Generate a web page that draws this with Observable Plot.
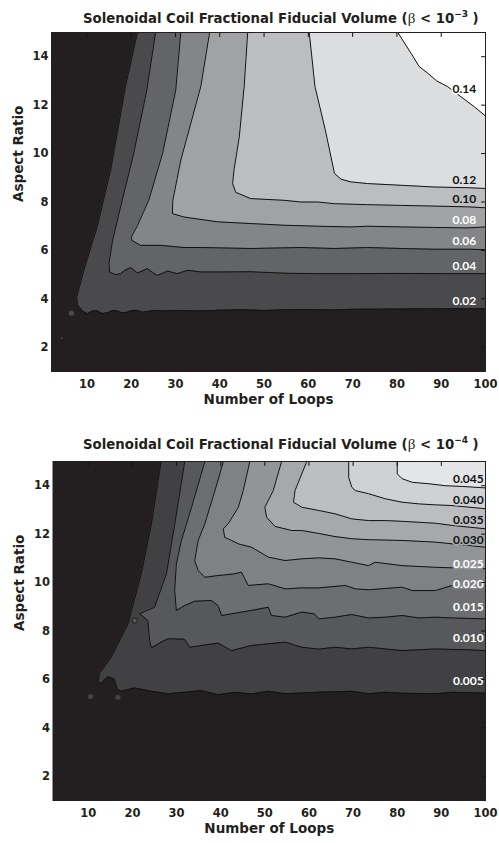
<!DOCTYPE html>
<html><head><meta charset="utf-8">
<script src="https://cdn.jsdelivr.net/npm/d3@7"></script>
<script src="https://cdn.jsdelivr.net/npm/@observablehq/plot@0.6"></script>
<style>
body{margin:0;background:#fff;}
#wrap{position:relative;width:499px;height:843px;overflow:hidden;}
.panel{position:absolute;left:0;}
.title{position:absolute;font-family:"DejaVu Sans",sans-serif;font-weight:bold;font-size:13.3px;line-height:16px;white-space:nowrap;color:#231f20;}
.title .beta{font-family:"Liberation Serif",serif;font-weight:normal;font-size:15px;}
.title sup{font-size:9px;vertical-align:0;position:relative;top:-6px;}
</style></head><body>
<div id="wrap">
  <div class="panel" id="p1" style="top:0px"></div>
  <div class="panel" id="p2" style="top:428px"></div>
  <div class="title" id="t1" style="left:83px;top:10px"></div>
  <div class="title" id="t2" style="left:83px;top:436px"></div>
</div>
<script>
// ---------- axes ----------
const xDomain = [2, 100];
const yDomain = [1, 15];
const xTicks = [10, 20, 30, 40, 50, 60, 70, 80, 90, 100];
const yTicks = [2, 4, 6, 8, 10, 12, 14];
const xLabel = "Number of Loops";
const yLabel = "Aspect Ratio";
const titleMain = "Solenoidal Coil Fractional Fiducial Volume (";
const titleExp1 = "\u22123";
const titleExp2 = "\u22124";

// ---------- panel 1 (beta < 1e-3): contour levels and traced contour lines [loops, aspect ratio] ----------
const levels1 = [0.02, 0.04, 0.06, 0.08, 0.10, 0.12, 0.14];
const levelLabels1 = ["0.02", "0.04", "0.06", "0.08", "0.10", "0.12", "0.14"];
const p1_c02 = [[21.4,15],[18.7,12.76],[15.35,9.31],[12.3,6.97],[9.3,5.18],[7.7,4.07],[7.9,3.75],[9.0,3.5],[10.1,3.39],[11.2,3.5],[12.3,3.52],[13.4,3.4],[14.6,3.42],[15.8,3.52],[16.9,3.5],[18,3.42],[19.1,3.45],[20.2,3.52],[21.4,3.52],[22.5,3.45],[23.6,3.47],[25,3.52],[27,3.5],[30,3.52],[35,3.5],[40,3.53],[45,3.55],[50,3.52],[55,3.55],[60,3.56],[65,3.54],[70,3.57],[80,3.58],[90,3.59],[100,3.59]];
const p1_c04 = [[25.5,15],[23.5,12.6],[20.55,10.0],[17.6,7.8],[15.8,6.42],[15.0,5.5],[15.1,5.1],[16.5,5.0],[17.6,5.04],[18.8,5.2],[19.9,5.29],[21.4,5.07],[22.5,5.15],[23.65,5.25],[24.8,5.1],[25.9,4.97],[27,5.05],[28.2,5.15],[30.4,5.04],[32.7,5.18],[35.7,5.11],[39.5,5.11],[47,5.12],[54.5,5.06],[62,5.04],[70,5.04],[80,5.05],[90,5.04],[100,5.04]];
const p1_c06 = [[31.2,15],[30.05,12.62],[27.1,10.02],[23.95,8.07],[21.45,7.04],[20.1,6.58],[20.1,6.42],[22.1,6.21],[26.7,6.21],[31.9,6.12],[35.7,6.12],[47,6.08],[58.3,6.12],[65.9,6.08],[73.4,6.12],[81,6.08],[88.5,6.05],[96,6.05],[100,6.03]];
const p1_c08 = [[37.7,15],[35.7,12.76],[31.2,9.73],[29.4,8.07],[29.3,7.52],[31.9,7.38],[39.5,7.18],[47,7.11],[54.5,7.04],[62.1,7.0],[69.6,6.97],[73.4,7.0],[81,6.97],[88.5,6.95],[96,6.93],[100,6.97]];
const p1_c10 = [[46.3,15],[45.5,12.76],[44.4,10.69],[43.2,9.31],[42.9,8.76],[43.6,8.4],[47,8.14],[54.5,8.07],[58.3,8.0],[62.1,8.0],[65.9,7.93],[73.4,7.89],[81,7.86],[88.5,7.83],[96,7.8],[100,7.76]];
const p1_c12 = [[60.2,15],[61.5,12.76],[63.8,11.0],[65.9,9.18],[67.4,8.94],[69.65,8.83],[73.4,8.76],[81,8.69],[88.4,8.62],[96,8.59],[100,8.56]];
const p1_c14 = [[80.2,15],[83.2,14.14],[85,13.6],[87,13.31],[89,13.0],[91.5,12.76],[94.5,12.34],[97.5,11.93],[100,11.55]];
const p1_islands = [[6.5,3.41,0]]; // [loops, aspect ratio, level index]
const p1_specks = [[4.3,2.37,0]];

// ---------- panel 2 (beta < 1e-4) ----------
const levels2 = [0.005, 0.010, 0.015, 0.020, 0.025, 0.030, 0.035, 0.040, 0.045];
const levelLabels2 = ["0.005", "0.010", "0.015", "0.020", "0.025", "0.030", "0.035", "0.040", "0.045"];
const p2_c005 = [[26.5,15],[24.3,12.43],[22,10.36],[19,8.3],[15.2,6.92],[12.5,6.23],[12.2,5.88],[12.9,5.84],[14.4,6.12],[15.9,6.02],[16.5,5.61],[17.45,5.51],[20.5,5.65],[24.3,5.51],[28.1,5.41],[31.8,5.47],[35.6,5.54],[39.4,5.37],[43.2,5.47],[47,5.4],[50.8,5.51],[54.6,5.41],[62.2,5.47],[69.7,5.51],[73.5,5.41],[77.3,5.47],[81.1,5.43],[88.7,5.41],[92.5,5.47],[100,5.43]];
const p2_c010 = [[31.85,15],[29.6,12.43],[27.7,10.36],[25,8.98],[21.6,8.71],[23.5,8.43],[23.9,7.6],[24.3,7.3],[26.5,7.54],[28.1,7.68],[31.8,7.66],[33,7.33],[35.6,7.4],[39.4,7.5],[42.45,7.19],[47,7.4],[54.6,7.54],[58.4,7.33],[62.2,7.25],[65.9,7.33],[69.7,7.26],[73.5,7.33],[77.3,7.26],[81.1,7.19],[88.7,7.26],[96.25,7.22],[100,7.19]];
const p2_c015 = [[36.4,15],[33.4,13.11],[31.1,11.74],[29.95,10.77],[29.57,9.67],[29.95,8.85],[31.84,9.05],[34.1,9.23],[37.9,9.26],[39.4,9.05],[40.2,8.64],[42.45,8.71],[47,8.85],[50.8,8.98],[51.5,8.64],[54.6,8.57],[58.36,8.78],[61.2,8.71],[62.3,8.5],[65.9,8.57],[69.7,8.68],[73.5,8.54],[77.3,8.57],[81.1,8.64],[84.9,8.54],[88.66,8.57],[92.45,8.54],[100,8.5]];
const p2_c020 = [[40.6,15],[38.7,13.8],[36.4,12.43],[34.9,11.74],[34.1,10.91],[34.9,10.5],[36.4,10.22],[39.4,10.29],[43.2,10.36],[44.7,10.43],[46.25,9.88],[50.8,9.95],[54.6,9.74],[58.36,9.78],[62.16,9.78],[65.9,9.84],[68.2,9.88],[70.5,9.74],[73.5,9.7],[81.1,9.81],[83.4,9.67],[88.66,9.67],[92.45,9.88],[100,9.88]];
const p2_c025 = [[46.6,15],[45.1,13.8],[44,13.11],[41.7,12.43],[40.6,12.22],[40.9,11.87],[42.45,11.74],[44,11.6],[47,11.46],[50.8,11.05],[54.6,10.91],[58.36,10.98],[62.16,11.02],[65.9,10.98],[69.7,10.84],[73.5,10.7],[75,10.84],[81.1,10.7],[88.66,10.63],[92.45,10.61],[100,10.57]];
const p2_c030 = [[53.8,15],[51.9,13.8],[50,13.11],[50.4,12.7],[52.3,12.32],[56.1,12.15],[58.36,12.15],[62.16,12.03],[65.9,11.9],[69.7,11.81],[73.5,11.77],[81.1,11.74],[88.66,11.67],[92.45,11.6],[100,11.46]];
const p2_c035 = [[59.5,15],[56.84,13.8],[56.5,13.32],[58.36,13.11],[62.16,12.98],[65.9,12.84],[69.7,12.63],[73.5,12.56],[77.3,12.56],[81.1,12.53],[88.66,12.45],[92.45,12.36],[100,12.22]];
const p2_c040 = [[69,15],[69,14.35],[69.7,13.94],[70.5,13.8],[73.5,13.67],[77.3,13.46],[81.1,13.32],[84.9,13.25],[88.66,13.21],[92.45,13.18],[100,13.05]];
const p2_c045 = [[80,15],[80,14.49],[81.1,14.29],[83.4,14.14],[87.2,14.08],[90.9,14.0],[94.7,13.97],[100,13.91]];
const p2_islands = [[10.5,5.29,0],[16.7,5.26,0],[20.5,8.43,1]];
const p2_specks = [];

// ---------- styling ----------
const colors1 = ["#231f20","#4a4a4c","#636466","#848587","#a1a2a4","#bcbdbf","#dcdddf","#ffffff"];
const colors2 = ["#231f20","#414143","#575859","#6d6e70","#808183","#939496","#a7a8aa","#bcbdbf","#d0d1d3","#e4e5e7"];
const labelFill1 = ["#fff","#fff","#fff","#fff","#111","#111","#111"];
const labelFill2 = ["#fff","#fff","#fff","#fff","#fff","#111","#111","#111","#111"];
const labelDy1 = [-8,-8,-8,-8,-7.5,-7.5,-13];
const labelDy2 = [-11.5,-11.6,-11,-1,-4.5,-5.7,-7.3,-6.5,-8];

const tickShape = {draw(context, l) { context.moveTo(0, 0); context.lineTo(0, -l); }};

function yAt(c, x) {
  for (let i = c.length - 1; i > 0; i--) {
    const [x1, y1] = c[i - 1], [x2, y2] = c[i];
    if (x >= Math.min(x1, x2) && x <= Math.max(x1, x2)) return x2 === x1 ? y2 : y1 + (y2 - y1) * (x - x1) / (x2 - x1);
  }
  return c[c.length - 1][1];
}

function panel({curves, labels, colors, labelFill, labelDy, islands, specks, labelAt, labelEnd, marginLeft, marginTop, marginBottom, height}) {
  const yTop = yDomain[1];
  const marks = [Plot.frame({fill: colors[0]})];
  curves.forEach((c, i) => marks.push(Plot.area(c, {x1: d => d[0], y1: d => d[1], x2: d => d[0], y2: () => yTop, fill: colors[i + 1], curve: "linear"})));
  marks.push(Plot.dot(islands, {x: d => d[0], y: d => d[1], r: 2.6, fill: d => colors[d[2] + 1], stroke: d => d[2] > 0 ? "#111" : "none", strokeWidth: 0.8}));
  marks.push(Plot.dot(specks, {x: d => d[0], y: d => d[1], r: 1, fill: d => colors[d[2] + 1]}));
  curves.forEach(c => marks.push(Plot.line(c, {x: d => d[0], y: d => d[1], stroke: "#111", strokeWidth: 1, curve: "linear"})));
  labels.forEach((t, i) => marks.push(Plot.text([{x: labelEnd, y: yAt(curves[i], labelAt), t}], {
    x: "x", y: "y", text: "t", textAnchor: "end", dy: labelDy[i], fill: labelFill[i],
    stroke: colors[i + 1], strokeWidth: 3, paintOrder: "stroke",
    fontFamily: "Lato", fontWeight: "bold", fontSize: 12
  })));
  marks.push(
    // inward ticks on the top and right edges (MATLAB box style)
    Plot.vector(xTicks, {x: d => d, y: () => yTop, length: 4, rotate: 180, anchor: "start", shape: tickShape, stroke: "#111", strokeWidth: 1}),
    Plot.vector(yTicks, {x: () => xDomain[1], y: d => d, length: 4, rotate: -90, anchor: "start", shape: tickShape, stroke: "#111", strokeWidth: 1}),
    Plot.axisX(xTicks, {anchor: "bottom", tickSize: 0, tickPadding: 8, label: null, fill: "#231f20"}),
    Plot.axisY(yTicks, {anchor: "left", tickSize: 0, tickPadding: 3, label: null, fill: "#231f20"}),
    Plot.text([xLabel], {frameAnchor: "bottom", dy: 32, text: d => d, fontSize: 13.5, fill: "#231f20"}),
    Plot.text([yLabel], {frameAnchor: "left", dx: -33, rotate: -90, text: d => d, fontSize: 13.5, fill: "#231f20"}),
    Plot.frame({stroke: "#231f20", strokeWidth: 1})
  );
  return Plot.plot({
    width: 499, height, marginLeft, marginRight: 14, marginTop, marginBottom,
    x: {domain: xDomain, axis: null}, y: {domain: yDomain, axis: null},
    style: {fontFamily: "DejaVu Sans, sans-serif", fontWeight: "bold", fontSize: "11.5px", background: "transparent", overflow: "visible"},
    marks
  });
}

document.getElementById("p1").append(panel({
  curves: [p1_c02, p1_c04, p1_c06, p1_c08, p1_c10, p1_c12, p1_c14],
  labels: levelLabels1, colors: colors1, labelFill: labelFill1, labelDy: labelDy1,
  islands: p1_islands, specks: p1_specks, labelAt: 96, labelEnd: 97.9,
  marginLeft: 51, marginTop: 32, marginBottom: 49, height: 420
}));
document.getElementById("p2").append(panel({
  curves: [p2_c005, p2_c010, p2_c015, p2_c020, p2_c025, p2_c030, p2_c035, p2_c040, p2_c045],
  labels: levelLabels2, colors: colors2, labelFill: labelFill2, labelDy: labelDy2,
  islands: p2_islands, specks: p2_specks, labelAt: 96, labelEnd: 99.6,
  marginLeft: 52.5, marginTop: 33, marginBottom: 43, height: 415
}));

function setTitle(id, exp) {
  const el = document.getElementById(id);
  el.append(titleMain);
  const b = document.createElement("span"); b.className = "beta"; b.textContent = "\u03b2"; el.append(b);
  el.append(" < 10");
  const s = document.createElement("sup"); s.textContent = exp; el.append(s);
  el.append(" )");
}
setTitle("t1", titleExp1);
setTitle("t2", titleExp2);
</script>
</body></html>
